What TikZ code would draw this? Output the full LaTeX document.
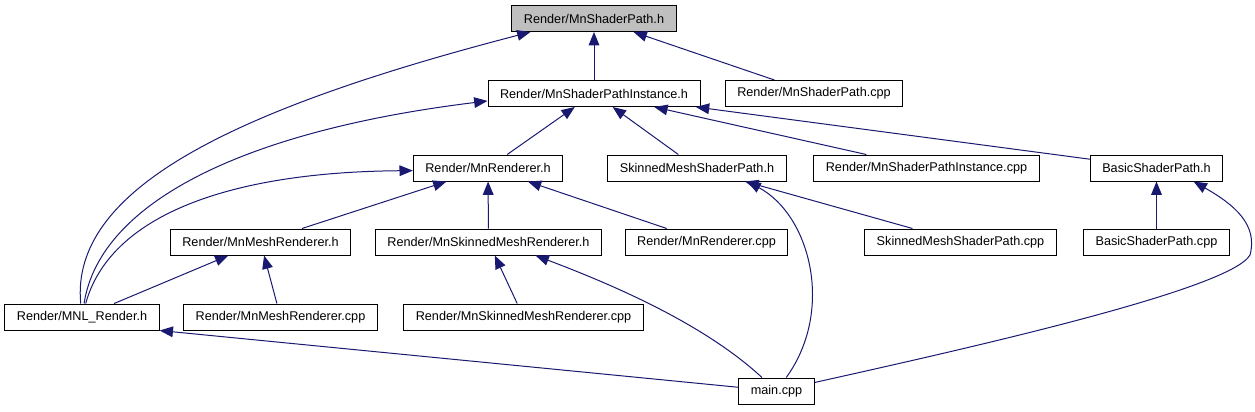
\documentclass[tikz,border=0pt]{standalone}
\usepackage{fontspec}
\setmainfont{Liberation Sans}
\usepackage{xcolor}
\usepackage{tikz}
\usetikzlibrary{arrows.meta}
\definecolor{edgeblue}{HTML}{191970}
\definecolor{rootgray}{HTML}{BFBFBF}

\begin{document}
\begin{tikzpicture}[x=0.75pt, y=-0.75pt,
    filebox/.style={draw=black, line width=0.75pt, fill=white, inner xsep=9pt, inner ysep=0pt,
                    minimum height=19.5pt, font=\fontsize{9.5}{11}\selectfont},
    incl/.style={draw=edgeblue, line width=0.75pt, >={Triangle[length=10pt,width=8pt]}, <-}]
  \useasboundingbox (0,0) rectangle (1255,411);

  % rows, top to bottom
  \node[filebox, fill=rootgray] (sp) at (594,18.5) {Render/MnShaderPath.h};
  \node[filebox] (spi) at (594,93.5) {Render/MnShaderPathInstance.h};
  \node[filebox] (spcpp) at (814,93.5) {Render/MnShaderPath.cpp};
  \node[filebox] (rend) at (488,168) {Render/MnRenderer.h};
  \node[filebox] (smsp) at (697,168) {SkinnedMeshShaderPath.h};
  \node[filebox] (spicpp) at (926.5,168) {Render/MnShaderPathInstance.cpp};
  \node[filebox] (bsp) at (1156.5,168) {BasicShaderPath.h};
  \node[filebox] (meshr) at (260.5,242) {Render/MnMeshRenderer.h};
  \node[filebox] (skinr) at (488.5,242) {Render/MnSkinnedMeshRenderer.h};
  \node[filebox] (rendcpp) at (706.5,242) {Render/MnRenderer.cpp};
  \node[filebox] (smspcpp) at (960.5,242) {SkinnedMeshShaderPath.cpp};
  \node[filebox] (bspcpp) at (1156.5,242) {BasicShaderPath.cpp};
  \node[filebox] (mnl) at (82,317) {Render/MNL\_Render.h};
  \node[filebox] (meshcpp) at (280.5,317) {Render/MnMeshRenderer.cpp};
  \node[filebox] (skincpp) at (523.5,317) {Render/MnSkinnedMeshRenderer.cpp};
  \node[filebox] (maincpp) at (776.5,391) {main.cpp};

  % straight includes
  \draw[incl] (sp) -- (spi);
  \draw[incl] (sp) -- (spcpp);
  \draw[incl] (spi) -- (rend);
  \draw[incl] (spi) -- (smsp);
  \draw[incl] (spi) -- (spicpp);
  \draw[incl] (spi) -- (bsp);
  \draw[incl] (rend) -- (meshr);
  \draw[incl] (rend) -- (skinr);
  \draw[incl] (rend) -- (rendcpp);
  \draw[incl] (smsp) -- (smspcpp);
  \draw[incl] (bsp) -- (bspcpp);
  \draw[incl] (meshr) -- (mnl);
  \draw[incl] (meshr) -- (meshcpp);
  \draw[incl] (skinr) -- (skincpp);
  \draw[incl] (mnl.south east) -- (maincpp);

  % curved includes
  \draw[incl] (sp.192) .. controls (230,110) and (70,190) .. (mnl);
  \draw[incl] (spi.184) .. controls (250,130) and (100,200) .. (mnl);
  \draw[incl] (rend.182) .. controls (230,172) and (110,215) .. (mnl);
  \draw[incl] (smsp.-15) .. controls (810,215) and (835,310) .. (maincpp);
  \draw[incl] (skinr.-16) .. controls (600,280) and (700,320) .. (maincpp);
  \draw[incl] (bsp.-20) .. controls (1235,205) and (1258,225) .. (1250,255)
    .. controls (1230,290) and (960,350) .. (maincpp);
\end{tikzpicture}
\end{document}
